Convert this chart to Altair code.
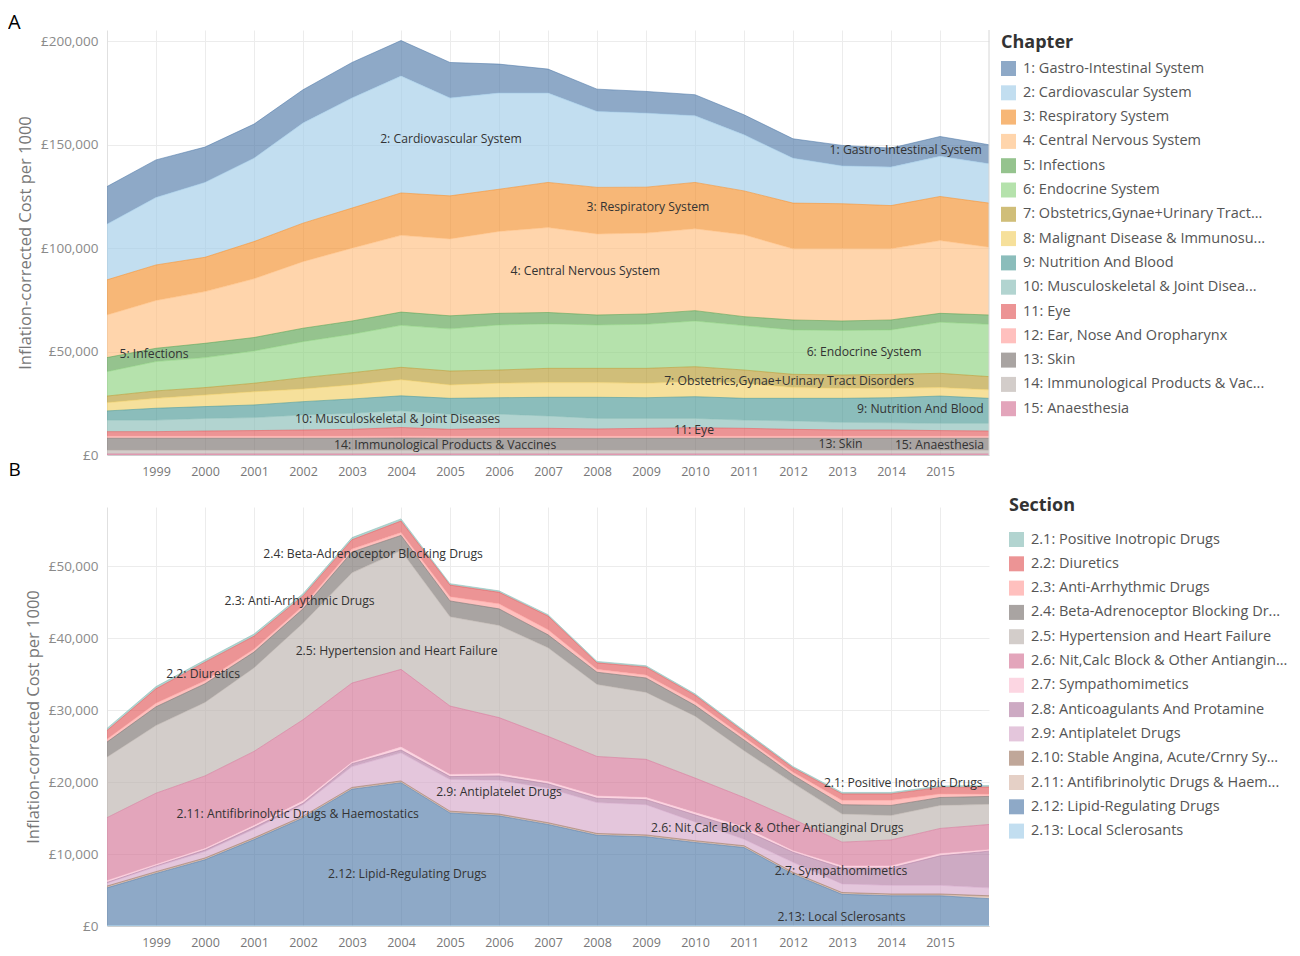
import json
import altair as alt
import pandas as pd

FONT = "Open Sans"
years = list(range(1998, 2017))

# ---------------- Panel A: chapters (values in £ thousands) ----------------
chapters = [
    "1: Gastro-Intestinal System", "2: Cardiovascular System", "3: Respiratory System",
    "4: Central Nervous System", "5: Infections", "6: Endocrine System",
    "7: Obstetrics,Gynae+Urinary Tract Disorders", "8: Malignant Disease & Immunosuppression",
    "9: Nutrition And Blood", "10: Musculoskeletal & Joint Diseases", "11: Eye",
    "12: Ear, Nose And Oropharynx", "13: Skin", "14: Immunological Products & Vaccines",
    "15: Anaesthesia",
]
chapter_legend = [
    "1: Gastro-Intestinal System", "2: Cardiovascular System", "3: Respiratory System",
    "4: Central Nervous System", "5: Infections", "6: Endocrine System",
    "7: Obstetrics,Gynae+Urinary Tract...", "8: Malignant Disease & Immunosu...",
    "9: Nutrition And Blood", "10: Musculoskeletal & Joint Disea...", "11: Eye",
    "12: Ear, Nose And Oropharynx", "13: Skin", "14: Immunological Products & Vac...",
    "15: Anaesthesia",
]
gi    = [18.2, 18.2, 17.1, 16.5, 16.1, 17.2, 17.2, 17.2, 14.0, 11.6, 10.8, 10.5, 10.2, 9.7, 9.4, 9.9, 9.2, 9.6, 9.2]
cardio= [26.9, 32.6, 36.2, 40.3, 48.4, 53.2, 56.5, 47.3, 46.5, 43.2, 36.7, 35.8, 32.2, 27.1, 21.7, 18.3, 18.6, 19.4, 19.0]
resp  = [17.0, 17.2, 16.6, 18.0, 18.6, 19.4, 20.5, 20.8, 20.4, 21.8, 22.5, 22.2, 22.4, 21.2, 22.1, 21.8, 20.9, 21.3, 21.3]
cns   = [20.6, 23.1, 25.0, 28.4, 32.2, 35.2, 37.1, 37.2, 39.6, 41.1, 39.2, 39.1, 39.6, 39.6, 34.4, 34.9, 34.4, 35.2, 32.8]
infec = [6.8, 6.4, 6.9, 6.5, 6.5, 6.4, 6.4, 6.3, 5.6, 5.5, 4.8, 5.0, 5.0, 4.3, 4.8, 4.6, 4.8, 4.3, 4.5]
endo  = [11.8, 14.2, 14.5, 15.6, 17.4, 18.6, 20.3, 20.4, 21.8, 21.5, 21.0, 21.3, 22.1, 21.5, 21.5, 21.5, 21.5, 24.7, 25.3]
obst  = [3.2, 3.6, 3.6, 4.1, 5.5, 5.9, 6.0, 6.7, 6.4, 6.9, 6.9, 7.2, 7.2, 6.4, 6.4, 6.4, 6.7, 6.9, 6.4]
malig = [4.0, 4.8, 5.6, 6.4, 6.1, 6.8, 7.8, 6.5, 7.0, 7.1, 7.1, 7.0, 7.3, 7.3, 5.2, 4.9, 4.6, 4.1, 4.1]
nutr  = [4.4, 5.7, 5.7, 6.1, 6.4, 6.9, 7.2, 7.7, 7.9, 9.0, 10.2, 10.0, 10.5, 10.5, 10.9, 11.6, 12.1, 13.2, 12.1]
musc  = [5.6, 5.6, 6.1, 6.3, 7.3, 7.8, 8.1, 7.3, 6.9, 6.0, 5.1, 4.8, 4.5, 4.0, 4.1, 3.7, 3.5, 3.5, 3.7]
eye   = [2.2, 2.2, 2.5, 2.7, 3.0, 3.3, 4.1, 3.3, 3.8, 3.8, 3.5, 3.8, 4.1, 3.8, 3.3, 3.0, 3.0, 2.7, 2.5]
ent   = [1.0, 1.0, 1.0, 1.0, 1.0, 1.0, 1.0, 1.0, 1.0, 1.0, 1.0, 1.0, 1.0, 1.0, 1.0, 1.0, 1.0, 1.0, 1.0]
skin  = [5.8, 5.8, 5.8, 5.8, 5.8, 5.8, 5.9, 5.8, 5.8, 5.8, 5.8, 5.8, 5.8, 5.8, 5.8, 5.8, 5.8, 5.8, 5.8]
immun = [1.8, 1.8, 1.8, 1.8, 1.8, 1.8, 1.8, 1.8, 1.8, 1.8, 1.8, 1.8, 1.8, 1.8, 1.8, 1.8, 1.8, 1.8, 1.8]
anaes = [0.5, 0.5, 0.5, 0.5, 0.5, 0.5, 0.5, 0.5, 0.5, 0.5, 0.5, 0.5, 0.5, 0.5, 0.5, 0.5, 0.5, 0.5, 0.5]
chapter_values = [gi, cardio, resp, cns, infec, endo, obst, malig, nutr, musc, eye, ent, skin, immun, anaes]
chapter_colors = ["#4E79A7", "#A0CBE8", "#F28E2B", "#FFBE7D", "#59A14F", "#8CD17D", "#B6992D",
                  "#F1CE63", "#499894", "#86BCB6", "#E15759", "#FF9D9A", "#79706E", "#BAB0AC", "#D37295"]

a_labels = ["2: Cardiovascular System", "1: Gastro-Intestinal System", "3: Respiratory System",
            "4: Central Nervous System", "5: Infections", "6: Endocrine System",
            "7: Obstetrics,Gynae+Urinary Tract Disorders", "9: Nutrition And Blood",
            "10: Musculoskeletal & Joint Diseases", "11: Eye", "13: Skin",
            "14: Immunological Products & Vaccines", "15: Anaesthesia"]
a_label_year = [2005.02, 2014.3, 2009.04, 2007.76, 1998.96, 2013.45, 2011.92, 2014.6, 2003.93, 2009.98, 2012.97, 2004.9, 2014.99]
a_label_val  = [153.0, 147.7, 120.1, 89.1, 48.6, 49.9, 35.8, 22.3, 17.4, 12.1, 5.5, 4.8, 4.8]

# ---------------- Panel B: sections of chapter 2 (values in £ thousands) ----------------
sections = [
    "2.1: Positive Inotropic Drugs", "2.2: Diuretics", "2.3: Anti-Arrhythmic Drugs",
    "2.4: Beta-Adrenoceptor Blocking Drugs", "2.5: Hypertension and Heart Failure",
    "2.6: Nit,Calc Block & Other Antianginal Drugs", "2.7: Sympathomimetics",
    "2.8: Anticoagulants And Protamine", "2.9: Antiplatelet Drugs",
    "2.10: Stable Angina, Acute/Crnry Syndromes & Fibrinolysis",
    "2.11: Antifibrinolytic Drugs & Haemostatics", "2.12: Lipid-Regulating Drugs",
    "2.13: Local Sclerosants",
]
section_legend = [
    "2.1: Positive Inotropic Drugs", "2.2: Diuretics", "2.3: Anti-Arrhythmic Drugs",
    "2.4: Beta-Adrenoceptor Blocking Dr...", "2.5: Hypertension and Heart Failure",
    "2.6: Nit,Calc Block & Other Antiangin...", "2.7: Sympathomimetics",
    "2.8: Anticoagulants And Protamine", "2.9: Antiplatelet Drugs",
    "2.10: Stable Angina, Acute/Crnry Sy...", "2.11: Antifibrinolytic Drugs & Haem...",
    "2.12: Lipid-Regulating Drugs", "2.13: Local Sclerosants",
]
s_inotropic = [0.3, 0.3, 0.3, 0.3, 0.3, 0.3, 0.3, 0.2, 0.2, 0.2, 0.2, 0.2, 0.2, 0.2, 0.2, 0.2, 0.2, 0.2, 0.2]
s_diuretic  = [1.2, 2.0, 2.6, 1.8, 1.4, 1.3, 1.6, 1.6, 1.6, 1.9, 0.9, 1.1, 0.9, 0.7, 0.6, 0.9, 0.9, 0.9, 1.0]
s_arrhyth   = [0.4, 0.5, 0.4, 0.4, 0.4, 0.4, 0.4, 0.6, 0.7, 0.7, 0.4, 0.4, 0.5, 0.4, 0.4, 0.6, 0.7, 0.5, 0.3]
s_beta      = [2.1, 2.6, 2.6, 2.2, 2.0, 2.9, 2.1, 2.2, 2.3, 1.8, 1.7, 2.0, 1.5, 1.5, 1.1, 1.3, 1.4, 1.1, 1.1]
s_hypert    = [8.4, 9.4, 10.2, 11.6, 13.4, 15.3, 16.5, 12.4, 12.8, 12.3, 10.0, 9.3, 8.6, 6.5, 5.0, 3.9, 3.4, 3.2, 2.8]
s_nitcalc   = [8.75, 9.9, 10.1, 10.3, 11.3, 11.0, 10.8, 9.5, 7.8, 6.3, 5.5, 5.3, 4.8, 4.1, 4.4, 3.3, 3.6, 3.5, 3.5]
s_sympath   = [0.25, 0.2, 0.2, 0.25, 0.3, 0.2, 0.4, 0.3, 0.3, 0.3, 0.3, 0.3, 0.3, 0.4, 0.2, 0.3, 0.3, 0.3, 0.2]
s_anticoag  = [0.1, 0.1, 0.2, 0.25, 0.2, 0.4, 0.4, 0.4, 0.6, 0.6, 0.6, 0.7, 1.0, 1.3, 1.4, 2.2, 2.4, 4.1, 5.1]
s_antiplat  = [0.4, 0.7, 0.9, 1.2, 1.6, 2.9, 3.9, 4.4, 4.7, 4.8, 4.3, 4.2, 2.6, 0.9, 1.4, 1.2, 1.2, 1.2, 1.1]
s_angina    = [0.15, 0.15, 0.15, 0.15, 0.15, 0.15, 0.15, 0.15, 0.15, 0.15, 0.15, 0.15, 0.15, 0.15, 0.15, 0.15, 0.15, 0.15, 0.15]
s_antifib   = [0.1, 0.1, 0.1, 0.1, 0.1, 0.1, 0.1, 0.1, 0.1, 0.1, 0.1, 0.1, 0.1, 0.1, 0.1, 0.1, 0.1, 0.1, 0.25]
s_lipid     = [5.25, 7.25, 9.15, 11.95, 14.95, 18.95, 19.85, 15.65, 15.25, 14.05, 12.55, 12.35, 11.55, 10.85, 7.15, 4.35, 4.15, 4.15, 3.75]
s_scler     = [0.05, 0.05, 0.05, 0.05, 0.05, 0.05, 0.05, 0.05, 0.05, 0.05, 0.05, 0.05, 0.05, 0.05, 0.05, 0.05, 0.05, 0.05, 0.05]
section_values = [s_inotropic, s_diuretic, s_arrhyth, s_beta, s_hypert, s_nitcalc, s_sympath,
                  s_anticoag, s_antiplat, s_angina, s_antifib, s_lipid, s_scler]
section_colors = ["#86BCB6", "#E15759", "#FF9D9A", "#79706E", "#BAB0AC", "#D37295", "#FABFD2",
                  "#B07AA1", "#D4A6C8", "#9D7660", "#D7B5A6", "#4E79A7", "#A0CBE8"]

b_labels = ["2.4: Beta-Adrenoceptor Blocking Drugs", "2.3: Anti-Arrhythmic Drugs",
            "2.5: Hypertension and Heart Failure", "2.2: Diuretics",
            "2.11: Antifibrinolytic Drugs & Haemostatics", "2.12: Lipid-Regulating Drugs",
            "2.9: Antiplatelet Drugs", "2.1: Positive Inotropic Drugs",
            "2.6: Nit,Calc Block & Other Antianginal Drugs", "2.7: Sympathomimetics",
            "2.13: Local Sclerosants"]
b_label_year = [2003.43, 2001.93, 2003.91, 1999.96, 2001.89, 2004.13, 2006.0, 2014.25, 2011.68, 2012.98, 2012.99]
b_label_val  = [51.67, 45.14, 38.19, 35.0, 15.56, 7.22, 18.61, 19.86, 13.65, 7.64, 1.25]

x_tick_years = list(range(1999, 2016))


def legend_label_expr(full, short):
    expr = "datum.label"
    for f, s in zip(full, short):
        if f != s:
            expr = f"datum.label === {json.dumps(f)} ? {json.dumps(s)} : ({expr})"
    return expr


def panel(names, short, values, colors, lab, lab_year, lab_val, ymax, yticks,
          width, height, legend_title, lx, ly, tpad, x_title, border):
    rows = []
    for i, (n, vals) in enumerate(zip(names, values)):
        for yr, v in zip(years, vals):
            rows.append({"year": yr, "name": n, "rank": i, "cost": v * 1000})
    df = pd.DataFrame(rows)

    xscale = alt.Scale(domain=[1998, 2016], nice=False, zero=False)
    yscale = alt.Scale(domain=[0, ymax], nice=False)

    area = alt.Chart(df).mark_area(
        opacity=0.64, line={"strokeWidth": 1, "opacity": 0.55}
    ).encode(
        x=alt.X("year:Q", scale=xscale, axis=alt.Axis(
            values=x_tick_years, format="d", grid=True, gridColor="#ececec",
            ticks=False, domainColor="#cfcfcf", labelColor="#777", labelFont=FONT,
            labelFontSize=12.5, labelPadding=10, title=x_title, titleFont=FONT,
            titleFontSize=19, titleFontWeight="normal", titleColor="#000",
            titleAnchor="start", titleAlign="left", titleX=-99, titleY=5,
            titleBaseline="top")),
        y=alt.Y("cost:Q", stack="zero", scale=yscale, axis=alt.Axis(
            values=yticks, labelExpr="'£' + format(datum.value, ',')", grid=True,
            gridColor="#ececec", ticks=False, domainColor="#e0e0e0", labelColor="#8a8a8a",
            labelFont=FONT, labelFontSize=13.5, labelPadding=9,
            title="Inflation-corrected Cost per 1000", titleFont=FONT, titleFontSize=16.5,
            titleFontWeight="normal", titleColor="#777", titlePadding=7)),
        color=alt.Color("name:N", scale=alt.Scale(domain=names, range=colors),
                        legend=alt.Legend(
                            title=legend_title, orient="none", legendX=lx, legendY=ly,
                            symbolType="square", symbolSize=225, symbolOpacity=0.64,
                            symbolStrokeWidth=0, labelFont=FONT, labelFontSize=14.5,
                            labelColor="#555", titleFont=FONT, titleFontSize=18,
                            titleFontWeight="bold", titleColor="#333", rowPadding=8.3,
                            labelOffset=7, titlePadding=tpad, labelLimit=400,
                            labelExpr=legend_label_expr(names, short))),
        order=alt.Order("rank:Q", sort="descending"),
    )

    ann = pd.DataFrame({"year": lab_year, "cost": [v * 1000 for v in lab_val], "label": lab})
    text = alt.Chart(ann).mark_text(font=FONT, fontSize=12.2, color="#333",
                                    baseline="middle").encode(
        x=alt.X("year:Q", scale=xscale), y=alt.Y("cost:Q", scale=yscale), text="label:N")

    layers = [area, text]
    if border:
        edge = alt.Chart(pd.DataFrame({"year": [2016]})).mark_rule(
            color="#d6d6d6", strokeWidth=1).encode(x=alt.X("year:Q", scale=xscale))
        layers.append(edge)
    return alt.layer(*layers).properties(width=width, height=height)


top = panel(chapters, chapter_legend, chapter_values, chapter_colors, a_labels, a_label_year,
            a_label_val, 205500, [0, 50000, 100000, 150000, 200000], 882, 425,
            "Chapter", 894, 4, 9, "B", True)
top = top.properties(title=alt.Title("A", anchor="start", frame="bounds", fontSize=20,
                                     font=FONT, fontWeight="normal", color="#000", offset=-3))

bottom = panel(sections, section_legend, section_values, section_colors, b_labels,
               b_label_year, b_label_val, 58200, [0, 10000, 20000, 30000, 40000, 50000],
               882, 419, "Section", 902, -10, 17, None, False)

chart = alt.vconcat(top, bottom, spacing=18).resolve_scale(
    color="independent", x="independent", y="independent"
).properties(
    padding={"left": 0, "top": 4, "right": 0, "bottom": 0}
).configure_view(stroke=None)

chart.save("out.html", embed_options={"renderer": "svg", "actions": False})
